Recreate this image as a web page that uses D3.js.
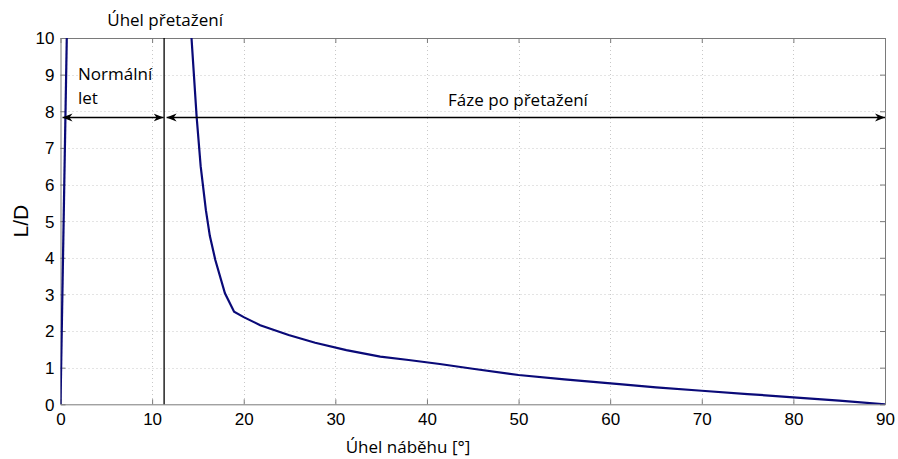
<!DOCTYPE html>
<html>
<head>
<meta charset="utf-8">
<script src="https://cdn.jsdelivr.net/npm/d3@7"></script>
<style>
  body { margin: 0; background: #fff; }
  svg { display: block; }
</style>
</head>
<body>
<svg id="chart" width="898" height="459"></svg>
<script>
// Lift-to-drag ratio vs. angle of attack
const xTicks = [0, 10, 20, 30, 40, 50, 60, 70, 80, 90];
const yTicks = [0, 1, 2, 3, 4, 5, 6, 7, 8, 9, 10];

// normal flight branch (steep rise)
const normalAlpha = [0, 0.74];
const normalLD    = [0, 10.8];

// post-stall branch
const stallAlpha = [14.22, 14.3, 14.86, 15.3, 15.87, 16.3, 16.9, 17.95, 18.95, 20, 21.8, 24.9, 27.8, 31.2, 34.9, 38, 41.4, 45, 50, 55, 61, 65, 70, 75, 80, 85, 90];
const stallLD    = [10.6, 10, 7.85, 6.5, 5.3, 4.6, 3.94, 3.03, 2.53, 2.38, 2.16, 1.89, 1.68, 1.48, 1.30, 1.21, 1.10, 0.97, 0.80, 0.68, 0.55, 0.46, 0.37, 0.28, 0.19, 0.10, 0.0];

const stallAngle = 11.2;
const arrowLevel = 7.83;

const svg = d3.select("#chart");
const m = { left: 60.5, right: 885, top: 38, bottom: 404.3 };
const x = d3.scaleLinear().domain([0, 90]).range([m.left, m.right]);
const y = d3.scaleLinear().domain([0, 10]).range([m.bottom, m.top]);

const defs = svg.append("defs");
defs.append("clipPath").attr("id", "plot")
  .append("rect").attr("x", m.left).attr("y", m.top)
  .attr("width", m.right - m.left).attr("height", m.bottom - m.top);
defs.append("marker").attr("id", "arrow")
  .attr("viewBox", "0 0 10 10").attr("refX", 10).attr("refY", 5)
  .attr("markerWidth", 10).attr("markerHeight", 10)
  .attr("markerUnits", "userSpaceOnUse").attr("orient", "auto-start-reverse")
  .append("path").attr("d", "M0,1 L10,5 L0,9 L3,5 Z").attr("fill", "#000");

// grid
const grid = svg.append("g").attr("stroke", "#c8c8c8").attr("stroke-width", 1).attr("stroke-dasharray", "1,3");
grid.selectAll(".gx").data(xTicks.slice(1, -1)).join("line")
  .attr("x1", d => Math.round(x(d)) + 0.5).attr("x2", d => Math.round(x(d)) + 0.5)
  .attr("y1", m.top).attr("y2", m.bottom);
grid.selectAll(".gy").data(yTicks.slice(1, -1)).join("line")
  .attr("y1", d => Math.round(y(d)) + 0.5).attr("y2", d => Math.round(y(d)) + 0.5)
  .attr("x1", m.left).attr("x2", m.right);

// axes
const tickFont = "Liberation Sans, Arial, sans-serif";
const xAxis = svg.append("g").attr("transform", `translate(0,${m.bottom})`)
  .call(d3.axisBottom(x).tickValues(xTicks).tickSizeInner(-5).tickSizeOuter(0).tickPadding(9));
const xAxisTop = svg.append("g").attr("transform", `translate(0,${m.top})`)
  .call(d3.axisTop(x).tickValues(xTicks).tickSizeInner(-5).tickSizeOuter(0).tickFormat(""));
const yAxis = svg.append("g").attr("transform", `translate(${m.left},0)`)
  .call(d3.axisLeft(y).tickValues(yTicks).tickSizeInner(-5).tickSizeOuter(0).tickPadding(6));
const yAxisRight = svg.append("g").attr("transform", `translate(${m.right},0)`)
  .call(d3.axisRight(y).tickValues(yTicks).tickSizeInner(-5).tickSizeOuter(0).tickFormat(""));
[xAxis, xAxisTop, yAxis, yAxisRight].forEach(g => {
  g.select(".domain").attr("stroke", "#7a7a7a");
  g.selectAll(".tick line").attr("stroke", "#7a7a7a");
  g.selectAll("text").attr("font-family", tickFont).attr("font-size", 17).attr("fill", "#000");
});
yAxis.selectAll("text").attr("dy", "0.35em");

// curves
const line = d3.line().x(d => x(d[0])).y(d => y(d[1]));
const curves = svg.append("g").attr("clip-path", "url(#plot)")
  .attr("fill", "none").attr("stroke", "#0a0a78").attr("stroke-width", 2.2);
curves.append("path").attr("d", line(d3.zip(normalAlpha, normalLD)));
curves.append("path").attr("d", line(d3.zip(stallAlpha, stallLD)));

// stall angle marker
svg.append("line")
  .attr("x1", x(stallAngle) + 1).attr("x2", x(stallAngle) + 1)
  .attr("y1", m.top).attr("y2", m.bottom)
  .attr("stroke", "#000").attr("stroke-width", 1.3);

// phase arrows
const ay = y(arrowLevel);
svg.append("line")
  .attr("x1", x(0) + 2).attr("x2", x(stallAngle) + 0.5)
  .attr("y1", ay).attr("y2", ay)
  .attr("stroke", "#000").attr("stroke-width", 1.3)
  .attr("marker-start", "url(#arrow)").attr("marker-end", "url(#arrow)");
svg.append("line")
  .attr("x1", x(stallAngle) + 3.5).attr("x2", x(90))
  .attr("y1", ay).attr("y2", ay)
  .attr("stroke", "#000").attr("stroke-width", 1.3)
  .attr("marker-start", "url(#arrow)").attr("marker-end", "url(#arrow)");

// annotations
const noteFont = "Open Sans, Noto Sans, sans-serif";
svg.append("text").attr("x", x(stallAngle) + 2).attr("y", 26)
  .attr("text-anchor", "middle").attr("font-family", noteFont).attr("font-size", 17)
  .text("Úhel přetažení");
svg.append("text").attr("x", 78).attr("y", 80)
  .attr("font-family", noteFont).attr("font-size", 17).text("Normální");
svg.append("text").attr("x", 78).attr("y", 104)
  .attr("font-family", noteFont).attr("font-size", 17).text("let");
svg.append("text").attr("x", 518).attr("y", 106)
  .attr("text-anchor", "middle").attr("font-family", noteFont).attr("font-size", 17)
  .text("Fáze po přetažení");

// axis titles
svg.append("text").attr("x", 408).attr("y", 453)
  .attr("text-anchor", "middle").attr("font-family", noteFont).attr("font-size", 17)
  .text("Úhel náběhu [°]");
svg.append("text").attr("transform", `translate(28,${(m.top + m.bottom) / 2}) rotate(-90)`)
  .attr("text-anchor", "middle").attr("font-family", tickFont).attr("font-size", 21)
  .text("L/D");
</script>
</body>
</html>
